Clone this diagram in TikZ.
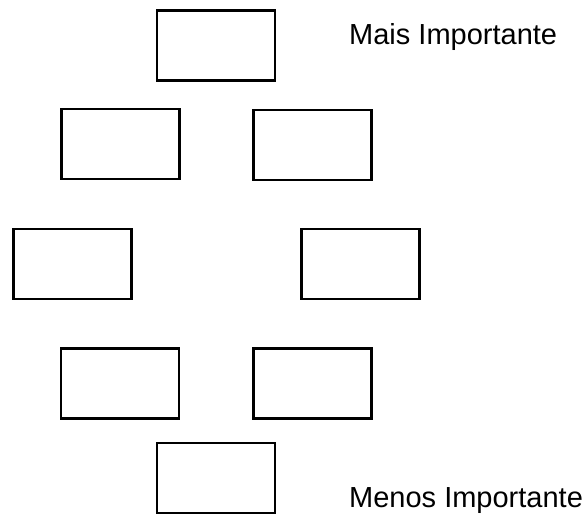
\documentclass[tikz,border=0pt]{standalone}
\usepackage{fontspec}
\setmainfont{Liberation Sans}
\begin{document}
\begin{tikzpicture}[x=1pt,y=-1pt,
  box/.style={draw=black,line width=2.6pt,minimum width=118pt,minimum height=70pt,inner sep=0pt,outer sep=0pt,fill=white},
  lbl/.style={anchor=base west,inner sep=0pt,font=\fontsize{29}{32}\selectfont}]
\useasboundingbox[fill=white] (0,0) rectangle (586,522);
\node[box] (b1) at (216,45.5) {};
\node[box] (b2l) at (120.5,144) {};
\node[box] (b2r) at (312.5,145) {};
\node[box] (b3l) at (72.5,264) {};
\node[box] (b3r) at (360.5,264) {};
\node[box] (b4l) at (120,383.5) {};
\node[box] (b4r) at (312.5,383.5) {};
\node[box] (b5) at (216,478) {};
\node[lbl] (top) at (349,44) {Mais Importante};
\node[lbl] (bot) at (349,507) {Menos Importante};
\end{tikzpicture}
\end{document}
